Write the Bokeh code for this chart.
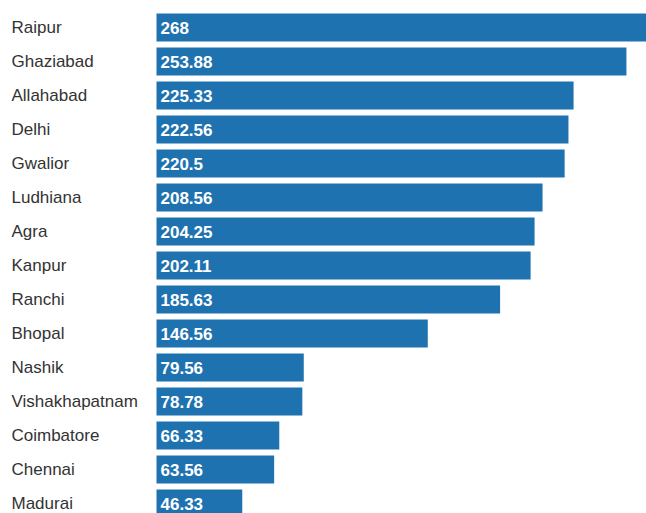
from bokeh.plotting import figure
from bokeh.models import ColumnDataSource, Range1d
from bokeh.core.properties import value
from bokeh.embed import file_html
from bokeh.resources import INLINE

cities = ["Raipur", "Ghaziabad", "Allahabad", "Delhi", "Gwalior", "Ludhiana", "Agra",
          "Kanpur", "Ranchi", "Bhopal", "Nashik", "Vishakhapatnam", "Coimbatore",
          "Chennai", "Madurai"]
values = [268, 253.88, 225.33, 222.56, 220.5, 208.56, 204.25, 202.11, 185.63,
          146.56, 79.56, 78.78, 66.33, 63.56, 46.33]
value_labels = ["268", "253.88", "225.33", "222.56", "220.5", "208.56", "204.25",
                "202.11", "185.63", "146.56", "79.56", "78.78", "66.33", "63.56", "46.33"]

W, H = 646, 513
px_per_unit = 1.851
bar_left_px = 156          # bar origin, px from figure's left edge
row_px = 34.0
first_center_px = 27       # first row centre, px from figure's top edge

x0 = -bar_left_px / px_per_unit
x1 = x0 + W / px_per_unit
y_top = -first_center_px / row_px
y_bot = y_top + H / row_px

src = ColumnDataSource(dict(
    y=list(range(len(cities))),
    v=values,
    city=cities,
    lab=value_labels,
    zero=[0] * len(cities),
    lx=[x0] * len(cities),
))

p = figure(width=W, height=H, output_backend="svg", toolbar_location=None,
           x_range=Range1d(x0, x1), y_range=Range1d(y_bot, y_top),
           x_axis_location=None, y_axis_location=None, min_border=0)
p.outline_line_color = None
p.xgrid.visible = False
p.ygrid.visible = False
p.background_fill_color = "white"

p.hbar(y="y", left="zero", right="v", height=0.82, source=src,
       fill_color="#1f72b0", line_color=None)

p.text(x="lx", y="y", text="city", source=src, x_offset=11,
       text_font=value("Liberation Sans"), text_font_size="17px",
       text_color="#333333", text_baseline="middle", text_align="left")

p.text(x="zero", y="y", text="lab", source=src, x_offset=4,
       text_font=value("Liberation Sans"), text_font_size="17px",
       text_font_style="bold", text_color="white",
       text_baseline="middle", text_align="left")

open("out.html", "w").write(file_html(p, INLINE))
